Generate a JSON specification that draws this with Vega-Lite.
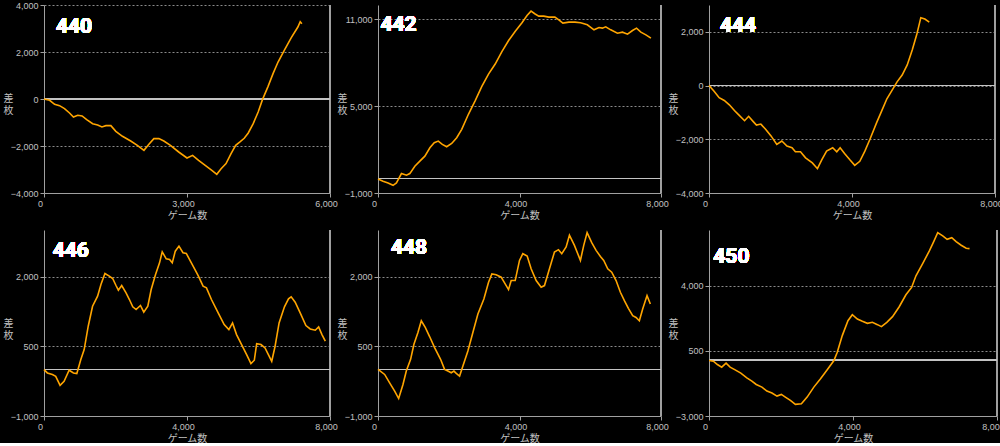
{
  "$schema": "https://vega.github.io/schema/vega-lite/v6.json",
  "background": "#000000",
  "padding": {"left": 3, "top": 1, "right": 0, "bottom": 0},
  "columns": 3,
  "align": {"row": "all", "column": "none"},
  "bounds": "flush",
  "spacing": {"row": 37, "column": 48},
  "data": {"values": [
    {"m":440,"g":0,"d":0},{"m":440,"g":118,"d":-57},{"m":440,"g":222,"d":-227},{"m":440,"g":326,"d":-284},{"m":440,"g":430,"d":-411},{"m":440,"g":535,"d":-596},{"m":440,"g":618,"d":-766},{"m":440,"g":708,"d":-695},{"m":440,"g":799,"d":-723},{"m":440,"g":896,"d":-879},{"m":440,"g":1021,"d":-1049},{"m":440,"g":1125,"d":-1106},{"m":440,"g":1215,"d":-1191},{"m":440,"g":1299,"d":-1134},{"m":440,"g":1403,"d":-1134},{"m":440,"g":1507,"d":-1375},{"m":440,"g":1646,"d":-1588},{"m":440,"g":1819,"d":-1787},{"m":440,"g":1958,"d":-1971},{"m":440,"g":2097,"d":-2184},{"m":440,"g":2201,"d":-1929},{"m":440,"g":2305,"d":-1687},{"m":440,"g":2410,"d":-1687},{"m":440,"g":2514,"d":-1787},{"m":440,"g":2653,"d":-1971},{"m":440,"g":2826,"d":-2255},{"m":440,"g":3000,"d":-2510},{"m":440,"g":3118,"d":-2397},{"m":440,"g":3243,"d":-2609},{"m":440,"g":3382,"d":-2822},{"m":440,"g":3521,"d":-3035},{"m":440,"g":3625,"d":-3205},{"m":440,"g":3715,"d":-2964},{"m":440,"g":3819,"d":-2751},{"m":440,"g":3924,"d":-2326},{"m":440,"g":4021,"d":-1971},{"m":440,"g":4111,"d":-1829},{"m":440,"g":4201,"d":-1673},{"m":440,"g":4285,"d":-1446},{"m":440,"g":4389,"d":-1049},{"m":440,"g":4493,"d":-553},{"m":440,"g":4583,"d":-28},{"m":440,"g":4701,"d":539},{"m":440,"g":4805,"d":1078},{"m":440,"g":4910,"d":1574},{"m":440,"g":5049,"d":2099},{"m":440,"g":5188,"d":2609},{"m":440,"g":5326,"d":3063},{"m":440,"g":5375,"d":3290},{"m":440,"g":5410,"d":3205},
    {"m":442,"g":0,"d":-28},{"m":442,"g":142,"d":-190},{"m":442,"g":284,"d":-306},{"m":442,"g":426,"d":-468},{"m":442,"g":521,"d":-306},{"m":442,"g":663,"d":343},{"m":442,"g":805,"d":227},{"m":442,"g":899,"d":343},{"m":442,"g":1041,"d":853},{"m":442,"g":1183,"d":1200},{"m":442,"g":1325,"d":1548},{"m":442,"g":1467,"d":2127},{"m":442,"g":1590,"d":2475},{"m":442,"g":1704,"d":2590},{"m":442,"g":1818,"d":2359},{"m":442,"g":1941,"d":2196},{"m":442,"g":2083,"d":2428},{"m":442,"g":2225,"d":2822},{"m":442,"g":2367,"d":3401},{"m":442,"g":2556,"d":4444},{"m":442,"g":2745,"d":5371},{"m":442,"g":2935,"d":6367},{"m":442,"g":3124,"d":7224},{"m":442,"g":3313,"d":7919},{"m":442,"g":3502,"d":8777},{"m":442,"g":3692,"d":9541},{"m":442,"g":3881,"d":10190},{"m":442,"g":4070,"d":10769},{"m":442,"g":4213,"d":11278},{"m":442,"g":4326,"d":11579},{"m":442,"g":4431,"d":11394},{"m":442,"g":4544,"d":11232},{"m":442,"g":4686,"d":11232},{"m":442,"g":4828,"d":11163},{"m":442,"g":4999,"d":11163},{"m":442,"g":5112,"d":10978},{"m":442,"g":5226,"d":10746},{"m":442,"g":5396,"d":10816},{"m":442,"g":5567,"d":10816},{"m":442,"g":5727,"d":10769},{"m":442,"g":5917,"d":10630},{"m":442,"g":6106,"d":10283},{"m":442,"g":6248,"d":10445},{"m":442,"g":6343,"d":10399},{"m":442,"g":6437,"d":10491},{"m":442,"g":6579,"d":10283},{"m":442,"g":6769,"d":10051},{"m":442,"g":6911,"d":10121},{"m":442,"g":7053,"d":9982},{"m":442,"g":7195,"d":10237},{"m":442,"g":7308,"d":10399},{"m":442,"g":7431,"d":10121},{"m":442,"g":7573,"d":9935},{"m":442,"g":7715,"d":9704},
    {"m":444,"g":0,"d":0},{"m":444,"g":142,"d":-214},{"m":444,"g":284,"d":-453},{"m":444,"g":427,"d":-554},{"m":444,"g":569,"d":-717},{"m":444,"g":711,"d":-931},{"m":444,"g":853,"d":-1120},{"m":444,"g":995,"d":-1308},{"m":444,"g":1109,"d":-1145},{"m":444,"g":1232,"d":-1333},{"m":444,"g":1327,"d":-1472},{"m":444,"g":1450,"d":-1434},{"m":444,"g":1583,"d":-1623},{"m":444,"g":1735,"d":-1874},{"m":444,"g":1896,"d":-2189},{"m":444,"g":2038,"d":-2063},{"m":444,"g":2180,"d":-2252},{"m":444,"g":2322,"d":-2315},{"m":444,"g":2417,"d":-2466},{"m":444,"g":2559,"d":-2466},{"m":444,"g":2701,"d":-2692},{"m":444,"g":2891,"d":-2881},{"m":444,"g":3033,"d":-3095},{"m":444,"g":3157,"d":-2755},{"m":444,"g":3289,"d":-2441},{"m":444,"g":3460,"d":-2315},{"m":444,"g":3574,"d":-2466},{"m":444,"g":3668,"d":-2315},{"m":444,"g":3792,"d":-2529},{"m":444,"g":3934,"d":-2755},{"m":444,"g":4076,"d":-2969},{"m":444,"g":4218,"d":-2818},{"m":444,"g":4360,"d":-2441},{"m":444,"g":4502,"d":-2000},{"m":444,"g":4692,"d":-1371},{"m":444,"g":4834,"d":-931},{"m":444,"g":4976,"d":-491},{"m":444,"g":5119,"d":-176},{"m":444,"g":5261,"d":138},{"m":444,"g":5403,"d":390},{"m":444,"g":5545,"d":767},{"m":444,"g":5687,"d":1333},{"m":444,"g":5811,"d":1899},{"m":444,"g":5925,"d":2528},{"m":444,"g":6038,"d":2478},{"m":444,"g":6161,"d":2365},
    {"m":446,"g":0,"d":-2},{"m":446,"g":94,"d":-74},{"m":446,"g":234,"d":-110},{"m":446,"g":328,"d":-146},{"m":446,"g":450,"d":-340},{"m":446,"g":562,"d":-254},{"m":446,"g":703,"d":-16},{"m":446,"g":824,"d":-74},{"m":446,"g":918,"d":-88},{"m":446,"g":1030,"d":213},{"m":446,"g":1124,"d":428},{"m":446,"g":1237,"d":931},{"m":446,"g":1358,"d":1361},{"m":446,"g":1499,"d":1577},{"m":446,"g":1593,"d":1828},{"m":446,"g":1705,"d":2065},{"m":446,"g":1827,"d":2007},{"m":446,"g":1921,"d":1957},{"m":446,"g":2014,"d":1806},{"m":446,"g":2080,"d":1706},{"m":446,"g":2173,"d":1806},{"m":446,"g":2295,"d":1648},{"m":446,"g":2389,"d":1505},{"m":446,"g":2482,"d":1347},{"m":446,"g":2576,"d":1289},{"m":446,"g":2698,"d":1376},{"m":446,"g":2791,"d":1232},{"m":446,"g":2904,"d":1361},{"m":446,"g":2998,"d":1720},{"m":446,"g":3120,"d":2043},{"m":446,"g":3232,"d":2294},{"m":446,"g":3307,"d":2531},{"m":446,"g":3419,"d":2380},{"m":446,"g":3513,"d":2366},{"m":446,"g":3588,"d":2294},{"m":446,"g":3672,"d":2545},{"m":446,"g":3775,"d":2653},{"m":446,"g":3888,"d":2510},{"m":446,"g":3981,"d":2495},{"m":446,"g":4122,"d":2294},{"m":446,"g":4309,"d":2022},{"m":446,"g":4450,"d":1792},{"m":446,"g":4544,"d":1756},{"m":446,"g":4684,"d":1505},{"m":446,"g":4872,"d":1218},{"m":446,"g":5040,"d":967},{"m":446,"g":5171,"d":859},{"m":446,"g":5274,"d":1002},{"m":446,"g":5386,"d":751},{"m":446,"g":5527,"d":536},{"m":446,"g":5668,"d":321},{"m":446,"g":5789,"d":127},{"m":446,"g":5883,"d":199},{"m":446,"g":5949,"d":557},{"m":446,"g":6070,"d":536},{"m":446,"g":6183,"d":464},{"m":446,"g":6276,"d":321},{"m":446,"g":6370,"d":177},{"m":446,"g":6464,"d":500},{"m":446,"g":6576,"d":1002},{"m":446,"g":6726,"d":1347},{"m":446,"g":6839,"d":1519},{"m":446,"g":6914,"d":1562},{"m":446,"g":7026,"d":1447},{"m":446,"g":7166,"d":1218},{"m":446,"g":7326,"d":945},{"m":446,"g":7447,"d":873},{"m":446,"g":7588,"d":845},{"m":446,"g":7682,"d":916},{"m":446,"g":7775,"d":751},{"m":446,"g":7869,"d":608},
    {"m":448,"g":0,"d":3},{"m":448,"g":188,"d":-106},{"m":448,"g":329,"d":-286},{"m":448,"g":471,"d":-466},{"m":448,"g":584,"d":-625},{"m":448,"g":706,"d":-322},{"m":448,"g":800,"d":-34},{"m":448,"g":922,"d":219},{"m":448,"g":1016,"d":543},{"m":448,"g":1129,"d":796},{"m":448,"g":1224,"d":1048},{"m":448,"g":1336,"d":904},{"m":448,"g":1459,"d":709},{"m":448,"g":1600,"d":471},{"m":448,"g":1769,"d":219},{"m":448,"g":1882,"d":3},{"m":448,"g":1976,"d":-34},{"m":448,"g":2071,"d":-70},{"m":448,"g":2146,"d":-34},{"m":448,"g":2212,"d":-84},{"m":448,"g":2306,"d":-142},{"m":448,"g":2400,"d":75},{"m":448,"g":2541,"d":399},{"m":448,"g":2682,"d":796},{"m":448,"g":2824,"d":1192},{"m":448,"g":2993,"d":1517},{"m":448,"g":3125,"d":1877},{"m":448,"g":3219,"d":2057},{"m":448,"g":3341,"d":2036},{"m":448,"g":3482,"d":1985},{"m":448,"g":3595,"d":1841},{"m":448,"g":3690,"d":1718},{"m":448,"g":3765,"d":1913},{"m":448,"g":3878,"d":1913},{"m":448,"g":4000,"d":2346},{"m":448,"g":4094,"d":2490},{"m":448,"g":4217,"d":2440},{"m":448,"g":4329,"d":2166},{"m":448,"g":4471,"d":1913},{"m":448,"g":4612,"d":1769},{"m":448,"g":4706,"d":1805},{"m":448,"g":4847,"d":2166},{"m":448,"g":4988,"d":2526},{"m":448,"g":5101,"d":2577},{"m":448,"g":5195,"d":2490},{"m":448,"g":5318,"d":2634},{"m":448,"g":5412,"d":2887},{"m":448,"g":5553,"d":2670},{"m":448,"g":5722,"d":2346},{"m":448,"g":5816,"d":2670},{"m":448,"g":5911,"d":2944},{"m":448,"g":6042,"d":2728},{"m":448,"g":6165,"d":2562},{"m":448,"g":6287,"d":2432},{"m":448,"g":6381,"d":2346},{"m":448,"g":6494,"d":2166},{"m":448,"g":6607,"d":2093},{"m":448,"g":6730,"d":1913},{"m":448,"g":6852,"d":1661},{"m":448,"g":6965,"d":1481},{"m":448,"g":7078,"d":1315},{"m":448,"g":7200,"d":1156},{"m":448,"g":7294,"d":1120},{"m":448,"g":7388,"d":1048},{"m":448,"g":7482,"d":1300},{"m":448,"g":7605,"d":1589},{"m":448,"g":7699,"d":1409},
    {"m":450,"g":0,"d":-18},{"m":450,"g":121,"d":-54},{"m":450,"g":233,"d":-232},{"m":450,"g":353,"d":-375},{"m":450,"g":474,"d":-161},{"m":450,"g":586,"d":-375},{"m":450,"g":726,"d":-518},{"m":450,"g":884,"d":-697},{"m":450,"g":1051,"d":-947},{"m":450,"g":1191,"d":-1125},{"m":450,"g":1312,"d":-1304},{"m":450,"g":1470,"d":-1447},{"m":450,"g":1609,"d":-1661},{"m":450,"g":1749,"d":-1768},{"m":450,"g":1888,"d":-1929},{"m":450,"g":2009,"d":-1840},{"m":450,"g":2121,"d":-1983},{"m":450,"g":2260,"d":-2161},{"m":450,"g":2400,"d":-2375},{"m":450,"g":2567,"d":-2340},{"m":450,"g":2726,"d":-1983},{"m":450,"g":2912,"d":-1447},{"m":450,"g":3098,"d":-1000},{"m":450,"g":3284,"d":-518},{"m":450,"g":3470,"d":-18},{"m":450,"g":3563,"d":429},{"m":450,"g":3702,"d":1322},{"m":450,"g":3860,"d":2125},{"m":450,"g":3981,"d":2447},{"m":450,"g":4121,"d":2215},{"m":450,"g":4260,"d":2090},{"m":450,"g":4400,"d":1982},{"m":450,"g":4539,"d":2036},{"m":450,"g":4679,"d":1911},{"m":450,"g":4790,"d":1804},{"m":450,"g":4939,"d":2036},{"m":450,"g":5098,"d":2340},{"m":450,"g":5284,"d":2875},{"m":450,"g":5470,"d":3518},{"m":450,"g":5628,"d":3911},{"m":450,"g":5749,"d":4536},{"m":450,"g":5935,"d":5197},{"m":450,"g":6121,"d":5876},{"m":450,"g":6242,"d":6376},{"m":450,"g":6353,"d":6858},{"m":450,"g":6493,"d":6680},{"m":450,"g":6614,"d":6501},{"m":450,"g":6744,"d":6590},{"m":450,"g":6865,"d":6376},{"m":450,"g":7005,"d":6180},{"m":450,"g":7144,"d":6019},{"m":450,"g":7237,"d":6001}
  ]},
  "concat": [
    {
      "width": 286, "height": 188,
      "transform": [{"filter": "datum.m == 440"}],
      "layer": [
        {"mark": {"type": "line", "color": "#ffa500", "strokeWidth": 1.6, "opacity": 0}, "encoding": {
          "x": {"field": "g", "type": "quantitative", "title": "ゲーム数", "scale": {"domain": [0, 6000], "nice": false}, "axis": {"values": [0, 3000, 6000]}},
          "y": {"field": "d", "type": "quantitative", "title": ["差", "枚"], "scale": {"domain": [-4000, 4000], "nice": false}, "axis": {"values": [-4000, -2000, 0, 2000, 4000]}}}},
        {"mark": {"type": "rule", "color": "#a0a0a0", "strokeWidth": 1}, "encoding": {"x": {"datum": 6000, "type": "quantitative"}}},
        {"mark": {"type": "rule", "color": "#c4c4c4", "strokeWidth": 1.1}, "encoding": {"y": {"datum": 0, "type": "quantitative"}}},
        {"mark": {"type": "line", "color": "#ffa500", "strokeWidth": 1.6}, "encoding": {"x": {"field": "g", "type": "quantitative"}, "y": {"field": "d", "type": "quantitative"}}},
        {"mark": {"type": "text", "text": "440", "align": "left", "baseline": "alphabetic", "color": "#ffffff", "fontSize": 21, "fontWeight": "bold", "font": "Liberation Sans Narrow, Roboto, sans-serif"}, "encoding": {"x": {"datum": 252, "type": "quantitative"}, "y": {"datum": 2802, "type": "quantitative"}}}
      ]
    },
    {
      "width": 283, "height": 188,
      "transform": [{"filter": "datum.m == 442"}],
      "layer": [
        {"mark": {"type": "line", "color": "#ffa500", "strokeWidth": 1.6, "opacity": 0}, "encoding": {
          "x": {"field": "g", "type": "quantitative", "title": "ゲーム数", "scale": {"domain": [0, 8000], "nice": false}, "axis": {"values": [0, 4000, 8000]}},
          "y": {"field": "d", "type": "quantitative", "title": ["差", "枚"], "scale": {"domain": [-1000, 12000], "nice": false}, "axis": {"values": [-1000, 5000, 11000]}}}},
        {"mark": {"type": "rule", "color": "#a0a0a0", "strokeWidth": 1}, "encoding": {"x": {"datum": 8000, "type": "quantitative"}}},
        {"mark": {"type": "rule", "color": "#c4c4c4", "strokeWidth": 1.1}, "encoding": {"y": {"datum": 0, "type": "quantitative"}}},
        {"mark": {"type": "line", "color": "#ffa500", "strokeWidth": 1.6}, "encoding": {"x": {"field": "g", "type": "quantitative"}, "y": {"field": "d", "type": "quantitative"}}},
        {"mark": {"type": "text", "text": "442", "align": "left", "baseline": "alphabetic", "color": "#ffffff", "fontSize": 21, "fontWeight": "bold", "font": "Liberation Sans Narrow, Roboto, sans-serif"}, "encoding": {"x": {"datum": 68, "type": "quantitative"}, "y": {"datum": 10193, "type": "quantitative"}}}
      ]
    },
    {
      "width": 286, "height": 188,
      "transform": [{"filter": "datum.m == 444"}],
      "layer": [
        {"mark": {"type": "line", "color": "#ffa500", "strokeWidth": 1.6, "opacity": 0}, "encoding": {
          "x": {"field": "g", "type": "quantitative", "title": "ゲーム数", "scale": {"domain": [0, 8000], "nice": false}, "axis": {"values": [0, 4000, 8000]}},
          "y": {"field": "d", "type": "quantitative", "title": ["差", "枚"], "scale": {"domain": [-4000, 3000], "nice": false}, "axis": {"values": [-4000, -2000, 0, 2000]}}}},
        {"mark": {"type": "rule", "color": "#a0a0a0", "strokeWidth": 1}, "encoding": {"x": {"datum": 8000, "type": "quantitative"}}},
        {"mark": {"type": "rule", "color": "#c4c4c4", "strokeWidth": 1.1}, "encoding": {"y": {"datum": 0, "type": "quantitative"}}},
        {"mark": {"type": "line", "color": "#ffa500", "strokeWidth": 1.6}, "encoding": {"x": {"field": "g", "type": "quantitative"}, "y": {"field": "d", "type": "quantitative"}}},
        {"mark": {"type": "text", "text": "444", "align": "left", "baseline": "alphabetic", "color": "#ffffff", "fontSize": 21, "fontWeight": "bold", "font": "Liberation Sans Narrow, Roboto, sans-serif"}, "encoding": {"x": {"datum": 308, "type": "quantitative"}, "y": {"datum": 1978, "type": "quantitative"}}}
      ]
    },
    {
      "width": 286, "height": 186,
      "transform": [{"filter": "datum.m == 446"}],
      "layer": [
        {"mark": {"type": "line", "color": "#ffa500", "strokeWidth": 1.6, "opacity": 0}, "encoding": {
          "x": {"field": "g", "type": "quantitative", "title": "ゲーム数", "scale": {"domain": [0, 8000], "nice": false}, "axis": {"values": [0, 4000, 8000]}},
          "y": {"field": "d", "type": "quantitative", "title": ["差", "枚"], "scale": {"domain": [-1000, 3000], "nice": false}, "axis": {"values": [-1000, 500, 2000]}}}},
        {"mark": {"type": "rule", "color": "#a0a0a0", "strokeWidth": 1}, "encoding": {"x": {"datum": 8000, "type": "quantitative"}}},
        {"mark": {"type": "rule", "color": "#c4c4c4", "strokeWidth": 1.1}, "encoding": {"y": {"datum": 0, "type": "quantitative"}}},
        {"mark": {"type": "line", "color": "#ffa500", "strokeWidth": 1.6}, "encoding": {"x": {"field": "g", "type": "quantitative"}, "y": {"field": "d", "type": "quantitative"}}},
        {"mark": {"type": "text", "text": "446", "align": "left", "baseline": "alphabetic", "color": "#ffffff", "fontSize": 21, "fontWeight": "bold", "font": "Liberation Sans Narrow, Roboto, sans-serif"}, "encoding": {"x": {"datum": 243, "type": "quantitative"}, "y": {"datum": 2413, "type": "quantitative"}}}
      ]
    },
    {
      "width": 283, "height": 186,
      "transform": [{"filter": "datum.m == 448"}],
      "layer": [
        {"mark": {"type": "line", "color": "#ffa500", "strokeWidth": 1.6, "opacity": 0}, "encoding": {
          "x": {"field": "g", "type": "quantitative", "title": "ゲーム数", "scale": {"domain": [0, 8000], "nice": false}, "axis": {"values": [0, 4000, 8000]}},
          "y": {"field": "d", "type": "quantitative", "title": ["差", "枚"], "scale": {"domain": [-1000, 3000], "nice": false}, "axis": {"values": [-1000, 500, 2000]}}}},
        {"mark": {"type": "rule", "color": "#a0a0a0", "strokeWidth": 1}, "encoding": {"x": {"datum": 8000, "type": "quantitative"}}},
        {"mark": {"type": "rule", "color": "#c4c4c4", "strokeWidth": 1.1}, "encoding": {"y": {"datum": 0, "type": "quantitative"}}},
        {"mark": {"type": "line", "color": "#ffa500", "strokeWidth": 1.6}, "encoding": {"x": {"field": "g", "type": "quantitative"}, "y": {"field": "d", "type": "quantitative"}}},
        {"mark": {"type": "text", "text": "448", "align": "left", "baseline": "alphabetic", "color": "#ffffff", "fontSize": 21, "fontWeight": "bold", "font": "Liberation Sans Narrow, Roboto, sans-serif"}, "encoding": {"x": {"datum": 367, "type": "quantitative"}, "y": {"datum": 2484, "type": "quantitative"}}}
      ]
    },
    {
      "width": 288, "height": 186,
      "transform": [{"filter": "datum.m == 450"}],
      "layer": [
        {"mark": {"type": "line", "color": "#ffa500", "strokeWidth": 1.6, "opacity": 0}, "encoding": {
          "x": {"field": "g", "type": "quantitative", "title": "ゲーム数", "scale": {"domain": [0, 8000], "nice": false}, "axis": {"values": [0, 4000, 8000]}},
          "y": {"field": "d", "type": "quantitative", "title": ["差", "枚"], "scale": {"domain": [-3000, 7000], "nice": false}, "axis": {"values": [-3000, 500, 4000]}}}},
        {"mark": {"type": "rule", "color": "#a0a0a0", "strokeWidth": 1}, "encoding": {"x": {"datum": 8000, "type": "quantitative"}}},
        {"mark": {"type": "rule", "color": "#c4c4c4", "strokeWidth": 1.1}, "encoding": {"y": {"datum": 0, "type": "quantitative"}}},
        {"mark": {"type": "line", "color": "#ffa500", "strokeWidth": 1.6}, "encoding": {"x": {"field": "g", "type": "quantitative"}, "y": {"field": "d", "type": "quantitative"}}},
        {"mark": {"type": "text", "text": "450", "align": "left", "baseline": "alphabetic", "color": "#ffffff", "fontSize": 21, "fontWeight": "bold", "font": "Liberation Sans Narrow, Roboto, sans-serif"}, "encoding": {"x": {"datum": 119, "type": "quantitative"}, "y": {"datum": 5242, "type": "quantitative"}}}
      ]
    }
  ],
  "config": {
    "view": {"stroke": null},
    "axis": {
      "domainColor": "#a0a0a0", "tickColor": "#a0a0a0", "tickSize": 4,
      "labelColor": "#c0c0c0", "labelFont": "Liberation Sans", "labelFontSize": 9, "labelPadding": 2,
      "titleColor": "#c0c0c0", "titleFont": "Noto Sans CJK JP", "titleFontSize": 10, "titleFontWeight": "normal",
      "gridColor": "#8a8a8a", "gridDash": [2, 2], "gridWidth": 1,
      "labelOverlap": false
    },
    "axisX": {"grid": false, "labelAngle": 0, "labelFlush": false, "labelOffset": -4, "titlePadding": 2},
    "axisY": {"grid": true, "titleAngle": 0, "titleX": -36, "titleY": 93, "titleAlign": "center", "titleBaseline": "middle", "titleLineHeight": 12, "labelBaseline": "middle"}
  }
}
